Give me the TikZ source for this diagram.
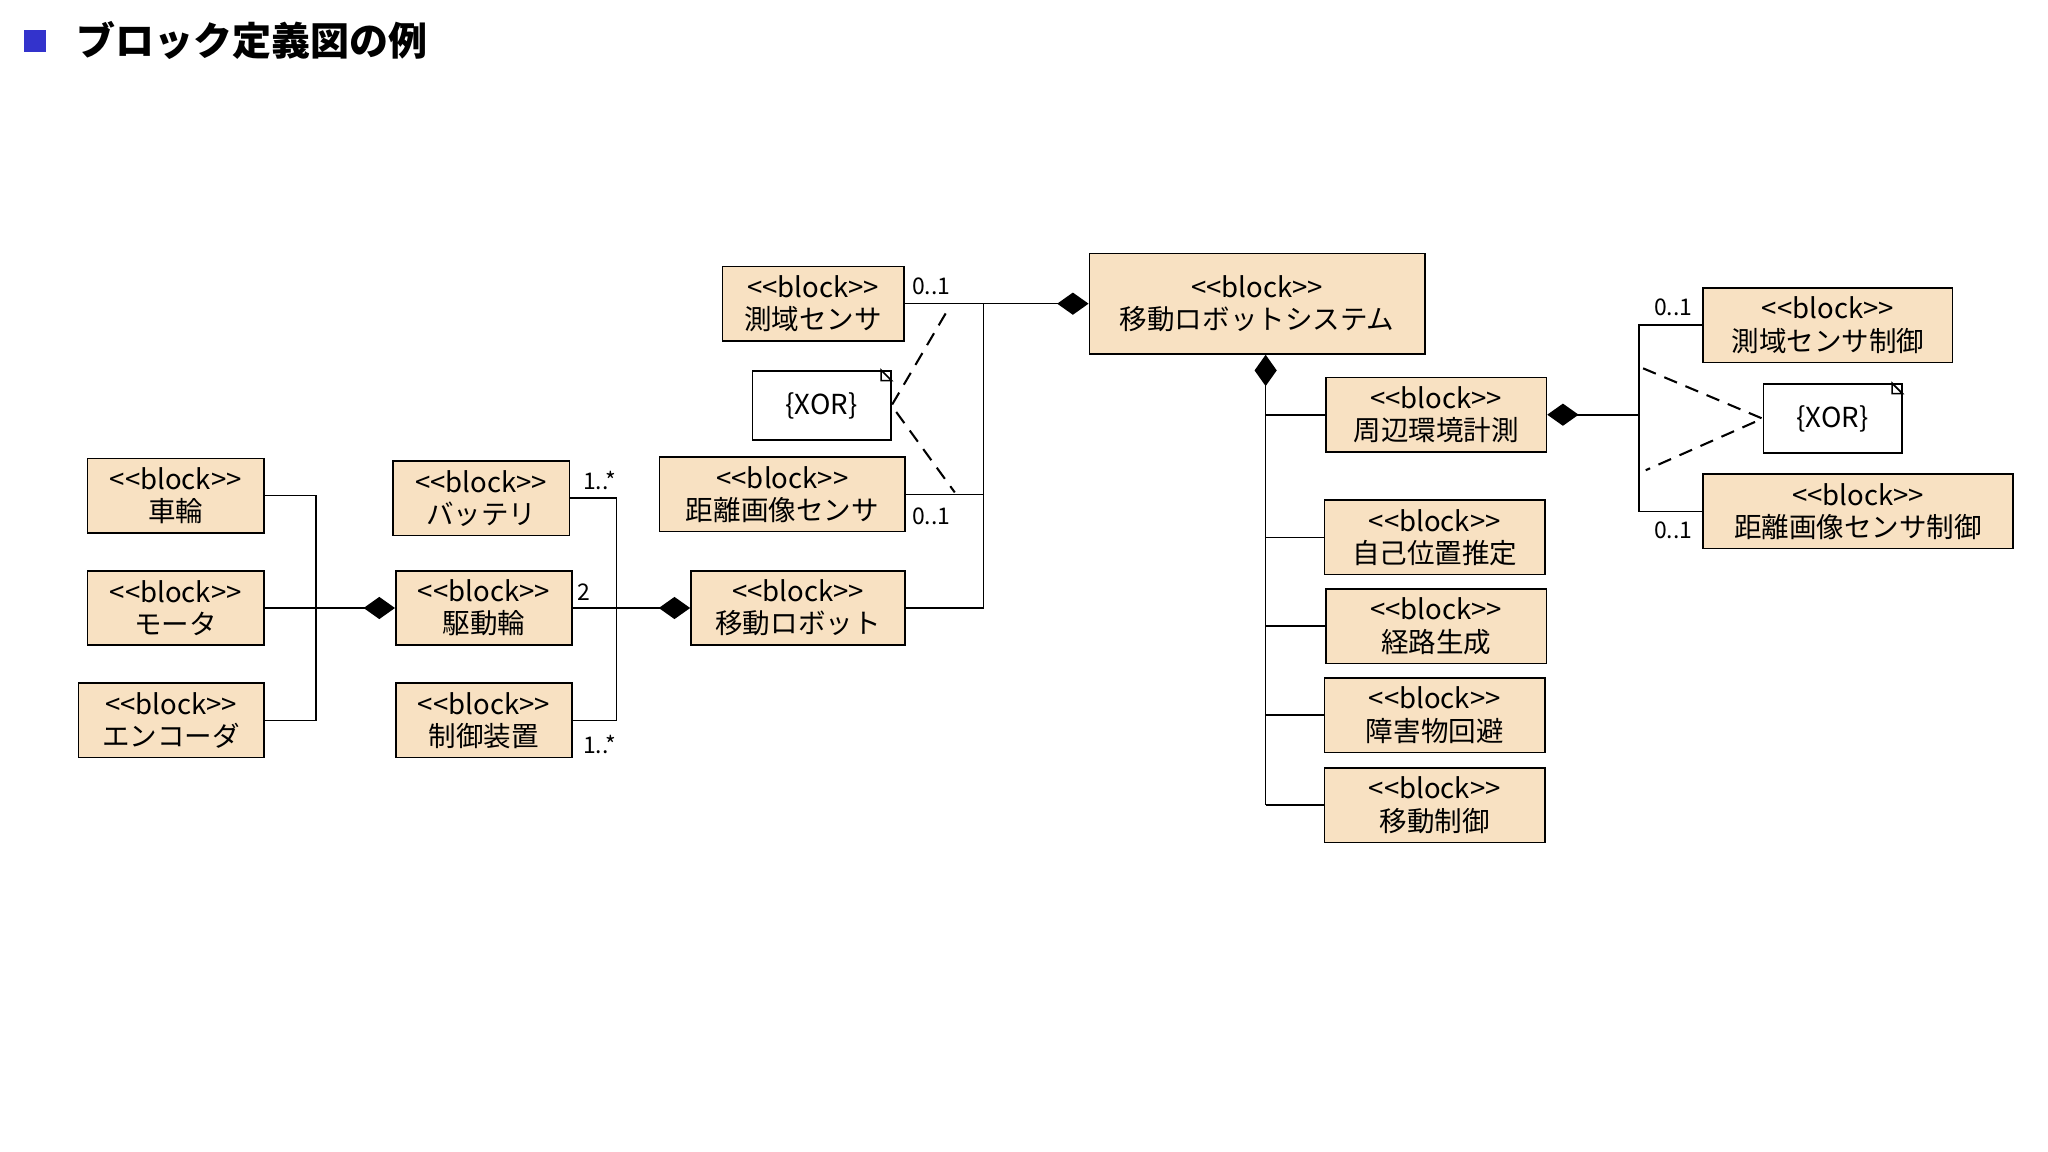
\documentclass[tikz,border=0pt]{standalone}
\usepackage{fontspec}
\setmainfont{Noto Sans CJK JP}
\usetikzlibrary{arrows.meta}
\definecolor{blkfill}{HTML}{F8E1C2}
\definecolor{ttlblue}{HTML}{3333CC}
\tikzset{
	blk/.style={draw, fill=blkfill, align=center, inner sep=0pt, minimum height=1.14cm, font=\fontsize{12}{14}\selectfont},
	note/.style={draw, fill=white, inner sep=0pt, minimum width=2.12cm, minimum height=1.06cm, font=\fontsize{12}{14}\selectfont},
	comp/.style={-{Diamond[length=0.48cm,width=0.34cm]}},
	mult/.style={font=\fontsize{10}{12}\selectfont, inner sep=0.5pt},
	xor/.style={dashed, line width=0.9pt, dash pattern=on 6pt off 4pt}
}
\def\bk#1{{<}{<}block{>}{>}\\#1}
\def\ear#1{\draw[fill=white] ([xshift=-0.16cm]#1.north east) -- ([yshift=-0.16cm]#1.north east) -- ([xshift=-0.16cm,yshift=-0.16cm]#1.north east) -- cycle;}
\begin{document}
\begin{tikzpicture}[x=0.02cm, y=-0.02cm, line width=0.7pt]
	\useasboundingbox (0,0) rectangle (1568,882);
	\fill[ttlblue] (18,23) rectangle (35,40);
	\node[anchor=west, font=\bfseries\fontsize{17}{20}\selectfont] (title) at (52,31) {ブロック定義図の例};

	% left part
	\node[blk, minimum width=2.7cm] (wheel) at (134.5,379.5) {\bk{車輪}};
	\node[blk, minimum width=2.7cm] (motor) at (134.5,465.5) {\bk{モータ}};
	\node[blk, minimum width=2.84cm] (encoder) at (131,551.5) {\bk{エンコーダ}};
	\node[blk, minimum width=2.7cm] (battery) at (368.5,381.5) {\bk{バッテリ}};
	\node[blk, minimum width=2.7cm] (drive) at (370.5,465.5) {\bk{駆動輪}};
	\node[blk, minimum width=2.7cm] (ctrl) at (370.5,551.5) {\bk{制御装置}};
	\node[blk, minimum width=3.28cm] (robot) at (611,465.5) {\bk{移動ロボット}};
	\node[blk, minimum width=2.78cm] (lrf) at (622.5,232.5) {\bk{測域センサ}};
	\node[note] (xorA) at (629,310.5) {\{XOR\}};
	\ear{xorA}
	\node[blk, minimum width=3.76cm] (depth) at (599,378.5) {\bk{距離画像センサ}};

	\coordinate (jA) at (242,465.5);
	\draw (wheel.east) -| (jA) |- (encoder.east);
	\draw (motor.east) -- (jA);
	\draw[comp] (jA) -- (drive.west);

	\coordinate (jB) at (472,465.5);
	\draw (battery.east) -| (jB) |- (ctrl.east);
	\draw (drive.east) -- (jB);
	\draw[comp] (jB) -- (robot.west);
	\node[mult] at (459,368) {1..*};
	\node[mult] at (447,453) {2};
	\node[mult] at (459,570) {1..*};

	% system
	\node[blk, minimum width=5.14cm, minimum height=1.54cm] (sys) at (962.5,232.5) {\bk{移動ロボットシステム}};
	\coordinate (jC) at (753,232.5);
	\draw (lrf.east) -- (jC) |- (robot.east);
	\draw (depth.east) -- (depth.east -| jC);
	\draw[comp] (jC) -- (sys.west);
	\node[mult] at (713,219) {0..1};
	\node[mult] at (713,395) {0..1};
	\coordinate (dA1) at (724,240);
	\coordinate (dA2) at (731,377);
	\draw[xor] (dA1) -- (xorA.east) -- (dA2);

	% right part
	\node[blk, minimum width=3.38cm] (env) at (1099.5,317.5) {\bk{周辺環境計測}};
	\node[blk, minimum width=3.38cm] (loc) at (1098.5,411.5) {\bk{自己位置推定}};
	\node[blk, minimum width=3.38cm] (path) at (1099.5,479.5) {\bk{経路生成}};
	\node[blk, minimum width=3.38cm] (avoid) at (1098.5,547.5) {\bk{障害物回避}};
	\node[blk, minimum width=3.38cm] (move) at (1098.5,616.5) {\bk{移動制御}};
	\coordinate (jD) at (969,616.5);
	\draw[comp] (jD) -- (sys.south -| jD);
	\foreach \n in {env,loc,path,avoid,move}
		\draw (\n.west -| jD) -- (\n.west);

	\node[blk, minimum width=3.82cm] (lrfc) at (1399.5,249) {\bk{測域センサ制御}};
	\node[note] (xorB) at (1403,320.5) {\{XOR\}};
	\ear{xorB}
	\node[blk, minimum width=4.74cm] (depthc) at (1422.5,391.5) {\bk{距離画像センサ制御}};
	\coordinate (jE) at (1255,317.5);
	\draw (lrfc.west) -| (jE) |- (depthc.west);
	\draw[comp] (jE) -- (env.east);
	\node[mult] at (1281,235) {0..1};
	\node[mult] at (1281,406) {0..1};
	\coordinate (dB1) at (1258,282);
	\coordinate (dB2) at (1260,360);
	\draw[xor] (dB1) -- (xorB.west) -- (dB2);
\end{tikzpicture}
\end{document}
